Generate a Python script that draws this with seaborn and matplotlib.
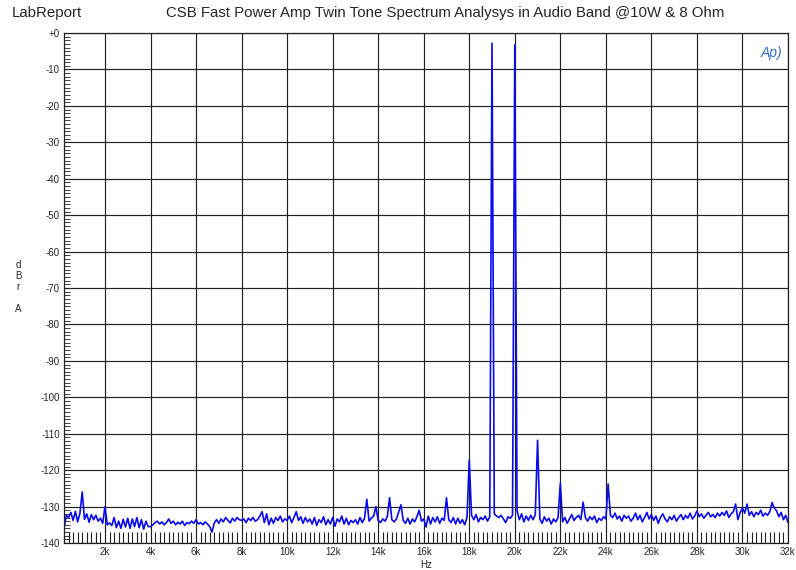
import numpy as np
import pandas as pd
import matplotlib
matplotlib.use("Agg")
import matplotlib.pyplot as plt
from matplotlib.ticker import MultipleLocator, FixedLocator
import seaborn as sns

# Spectrum: bins every 100 Hz from 200 Hz to 32 kHz, one row per kHz
freq_hz = np.arange(200, 32001, 100)
level_dbra = (
    [-136.0, -132.4, -133.0, -131.6, -133.8, -131.3, -134.2, -131.8]  # 0.2k-0.9k
    + [-126.0, -133.5, -132.0, -134.3, -132.2, -133.6, -132.4, -134.0, -133.2, -134.6]  # 1k
    + [-130.0, -135.0, -134.5, -135.2, -133.0, -135.8, -134.0, -136.0, -133.5, -135.6]  # 2k
    + [-133.2, -136.0, -133.4, -135.5, -133.0, -135.8, -133.6, -136.2, -134.0, -135.5]  # 3k
    + [-135.5, -135.0, -134.4, -134.0, -134.8, -134.2, -135.0, -134.4, -133.4, -134.6]  # 4k
    + [-134.0, -135.0, -134.3, -134.8, -134.0, -135.2, -134.4, -134.7, -134.0, -134.6]  # 5k
    + [-133.6, -134.8, -134.4, -135.0, -134.2, -134.8, -135.5, -137.0, -134.5, -133.6]  # 6k
    + [-134.6, -133.4, -134.2, -133.0, -133.8, -134.5, -133.2, -134.0, -133.0, -133.6]  # 7k
    + [-133.8, -133.4, -134.4, -133.2, -133.8, -133.0, -134.0, -133.6, -132.6, -131.4]  # 8k
    + [-134.4, -132.0, -135.0, -133.2, -134.6, -133.0, -133.8, -132.6, -134.2, -133.4]  # 9k
    + [-133.8, -132.6, -134.4, -133.0, -131.4, -133.8, -132.8, -134.6, -133.0, -134.2]  # 10k
    + [-133.4, -134.8, -133.0, -135.2, -133.6, -134.4, -132.8, -135.0, -133.6, -134.8]  # 11k
    + [-133.0, -135.4, -133.4, -134.2, -132.6, -134.8, -133.2, -135.0, -133.8, -134.4]  # 12k
    + [-133.6, -134.8, -133.0, -134.4, -133.2, -128.0, -134.0, -133.2, -132.6, -130.0]  # 13k
    + [-133.8, -134.4, -133.4, -134.0, -132.8, -127.6, -133.6, -134.2, -133.4, -131.5]  # 14k
    + [-129.5, -133.8, -134.6, -133.2, -134.8, -133.4, -134.2, -132.8, -131.0, -134.0]  # 15k
    + [-133.4, -135.6, -132.6, -134.8, -133.0, -134.2, -132.8, -134.6, -133.2, -133.8]  # 16k
    + [-127.6, -133.6, -134.4, -133.0, -134.8, -133.2, -134.6, -133.6, -135.0, -133.0]  # 17k
    + [-117.2, -132.4, -133.6, -132.2, -134.2, -133.0, -133.6, -132.6, -134.0, -132.8]  # 18k
    + [-2.8, -132.0, -132.6, -133.0, -132.4, -133.4, -134.4, -132.8, -133.2, -132.4]  # 19k
    + [-3.3, -131.2, -133.6, -132.0, -134.2, -132.6, -133.8, -132.4, -133.6, -132.2]  # 20k
    + [-111.8, -133.4, -134.6, -132.8, -134.0, -133.2, -134.8, -133.4, -134.2, -133.0]  # 21k
    + [-123.6, -134.2, -133.0, -134.6, -133.4, -132.2, -133.8, -133.0, -132.4, -133.6]  # 22k
    + [-128.8, -133.0, -134.0, -132.8, -133.6, -132.6, -134.4, -133.2, -133.8, -132.8]  # 23k
    + [-133.4, -123.8, -132.4, -133.0, -131.8, -133.4, -132.6, -134.0, -132.4, -133.2]  # 24k
    + [-132.6, -134.0, -133.2, -131.8, -133.6, -132.4, -134.2, -133.0, -131.6, -133.4]  # 25k
    + [-132.2, -133.8, -132.6, -134.6, -133.0, -132.0, -133.4, -134.2, -132.8, -133.6]  # 26k
    + [-132.4, -134.0, -133.0, -132.2, -133.6, -132.4, -133.2, -131.8, -133.4, -132.6]  # 27k
    + [-131.2, -132.8, -132.0, -133.2, -132.4, -131.6, -132.8, -132.2, -133.0, -131.8]  # 28k
    + [-132.6, -131.6, -132.4, -131.2, -133.0, -132.0, -131.4, -129.3, -133.6, -131.6]  # 29k
    + [-130.4, -131.8, -129.3, -132.4, -131.4, -132.8, -131.6, -132.2, -131.0, -132.6]  # 30k
    + [-131.8, -132.4, -131.4, -128.9, -130.4, -131.2, -132.8, -131.6, -133.6, -132.4]  # 31k
    + [-134.4]  # 32k
)

x_ticks = [2000 * i for i in range(1, 17)]
x_labels = [f"{i * 2}k" for i in range(1, 17)]
y_ticks = [-10 * i for i in range(0, 15)]
y_labels = ["+0"] + [str(v) for v in y_ticks[1:]]

df = pd.DataFrame({"Hz": freq_hz, "dBrA": level_dbra})

sns.set_style("white")
plt.rcParams["font.family"] = ["Liberation Sans", "DejaVu Sans"]

fig = plt.figure(figsize=(7.96, 5.70), dpi=100)
ax = fig.add_axes([64 / 796, 1 - 543 / 570, 724 / 796, 510 / 570])

sns.lineplot(data=df, x="Hz", y="dBrA", ax=ax, color="#0a0af0", linewidth=1.2)

ax.set_xlim(200, 32000)
ax.set_ylim(-140, 0)
ax.xaxis.set_major_locator(FixedLocator(x_ticks))
ax.set_xticklabels(x_labels)
ax.xaxis.set_minor_locator(MultipleLocator(200))
ax.yaxis.set_major_locator(FixedLocator(y_ticks))
ax.set_yticklabels(y_labels)
ax.yaxis.set_minor_locator(MultipleLocator(1))

ax.grid(True, which="major", color="#222222", linewidth=0.85)
ax.tick_params(axis="both", which="major", length=0, labelsize=7, pad=3)
ax.tick_params(axis="x", which="minor", direction="in", length=8, width=0.8, color="#222222", bottom=True)
ax.tick_params(axis="y", which="minor", direction="in", length=4, width=0.6, color="#222222", left=True)
for s in ax.spines.values():
    s.set_color("#222222")
    s.set_linewidth(0.9)
ax.set_xlabel("")
ax.set_ylabel("")

fig.text(12 / 796, 1 - 13 / 570, "LabReport", fontsize=10.8, ha="left", va="center")
fig.text(445 / 796, 1 - 13 / 570, "CSB Fast Power Amp Twin Tone Spectrum Analysys in Audio Band @10W & 8 Ohm",
         fontsize=10.8, ha="center", va="center")
fig.text(18 / 796, 1 - 287 / 570, "d\nB\nr\n\nA", fontsize=7, ha="center", va="center", linespacing=1.15)
fig.text(426 / 796, 1 - 565 / 570, "Hz", fontsize=7, ha="center", va="center")
ax.text(0.992, 0.975, "Ap)", transform=ax.transAxes, fontsize=10, style="italic",
        color="#2f6fd0", ha="right", va="top")

fig.savefig("out.png", dpi=100)
